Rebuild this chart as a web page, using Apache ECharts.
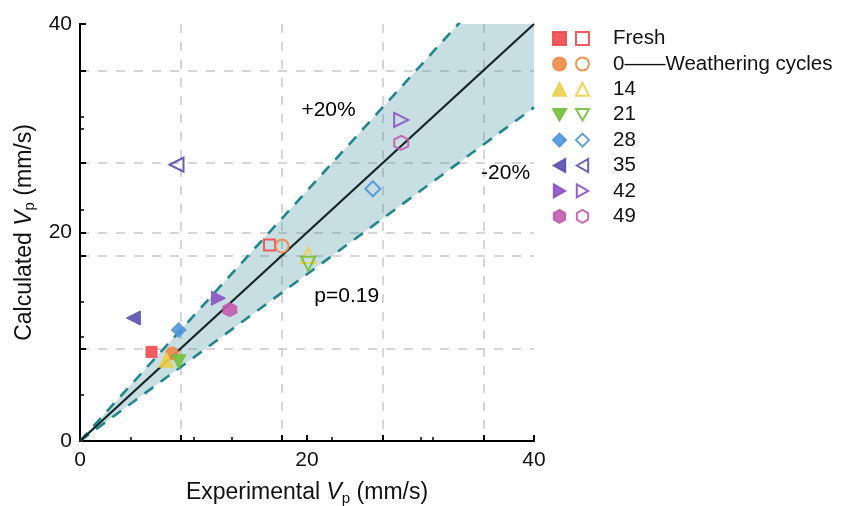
<!DOCTYPE html>
<html>
<head>
<meta charset="utf-8">
<script src="https://cdn.jsdelivr.net/npm/echarts@6/dist/echarts.min.js"></script>
<style>html,body{margin:0;padding:0;background:#fff}#c{width:844px;height:506px}</style>
</head>
<body>
<div id="c"></div>
<script>
// ---- data ----
const groups = ['Fresh', '0——Weathering cycles', '14', '21', '28', '35', '42', '49'];
const colors = ['#ee4a50', '#f08a45', '#ecd04e', '#74c03c', '#4f93db', '#5a4fb0', '#8a52c4', '#c25cae'];
const filledX = [6.3, 8.1, 7.6, 8.7, 8.7, 4.7, 12.2, 13.2];
const filledY = [8.55, 8.4, 7.8, 7.6, 10.65, 11.8, 13.7, 12.6];
const hollowX = [16.7, 17.8, 20.1, 20.1, 25.8, 8.5, 28.3, 28.3];
const hollowY = [18.8, 18.7, 17.8, 17.0, 24.2, 26.5, 30.8, 28.6];
const refX = [0, 40];
const identY = [0, 40];
const upperY = [0, 48];
const lowerY = [0, 32];
const bandPolyX = [0, 40, 40];
const bandPolyY = [0, 48, 32];
const notes = ['+20%', '-20%', 'p=0.19'];
const noteX = [21.9, 37.5, 23.5];
const noteY = [31.7, 25.7, 13.9];
const axisLabels = [0, 20, 40];

// ---- symbols ----
const symbols = [
  'rect', 'circle', 'triangle',
  'path://M0,0 L2,0 L1,1.75 Z',
  'diamond',
  'path://M0,1 L1.75,0 L1.75,2 Z',
  'path://M0,0 L1.75,1 L0,2 Z',
  'path://M0,-1 L0.866,-0.5 L0.866,0.5 L0,1 L-0.866,0.5 L-0.866,-0.5 Z'
];
const sizes = [11, 13, 15, 14, 15, 14, 14, 14];

const series = [];
// band fill polygon
series.push({type:'custom', silent:true, z:1, clip:true,
  data:[0],
  renderItem:(params, api) => ({
    type:'polygon',
    shape:{points: bandPolyX.map((x,i)=>api.coord([x, bandPolyY[i]]))},
    style:{fill:'rgba(70,150,158,0.30)'}
  })});
// dashed bounds
series.push({type:'line', data: refX.map((x,i)=>[x, upperY[i]]), symbol:'none', silent:true, z:2,
  lineStyle:{color:'#22868d', width:2.6, type:[11,9]}});
series.push({type:'line', data: refX.map((x,i)=>[x, lowerY[i]]), symbol:'none', silent:true, z:2,
  lineStyle:{color:'#22868d', width:2.6, type:[11,9]}});
// identity line
series.push({type:'line', data: refX.map((x,i)=>[x, identY[i]]), symbol:'none', silent:true, z:3,
  lineStyle:{color:'#142424', width:2.2}});

groups.forEach((g, i) => {
  series.push({
    name: 'f_' + g, type: 'scatter', symbol: symbols[i], symbolSize: sizes[i], z: 5,
    data: [[filledX[i], filledY[i]]],
    itemStyle: {color: colors[i], borderColor: colors[i], borderWidth: 1, opacity: 0.9}
  });
  series.push({
    name: g, type: 'scatter', symbol: symbols[i], symbolSize: sizes[i], z: 5,
    data: [[hollowX[i], hollowY[i]]],
    itemStyle: {color: 'rgba(255,255,255,0)', borderColor: colors[i], borderWidth: 2, opacity: 0.9}
  });
});

const FONT = 'Liberation Sans, Arial, sans-serif';

// annotations
series.push({type:'scatter', symbolSize:0, silent:true, z:6,
  data: notes.map((t,i)=>({value:[noteX[i], noteY[i]], name:t})),
  itemStyle:{opacity:1},
  label:{show:true, position:'inside', formatter:p=>p.name, color:'#000', fontSize:21, fontFamily:FONT}});

const nameRich = {
  n:{fontSize:23, color:'#111', fontFamily:FONT},
  i:{fontSize:23, color:'#111', fontStyle:'italic', fontFamily:FONT},
  s:{fontSize:15, color:'#111', fontFamily:FONT, padding:[12,0,0,0]}
};
const legText = {fontSize:20.5, color:'#111', fontFamily:FONT};

const option = {
  animation: false,
  grid: {left: 80, right: 310, top: 24, bottom: 65, outerBoundsMode: 'none', containLabel: false},
  legend: [
    {orient:'vertical', left: 547, top: 23, itemWidth: 13, itemHeight: 13, itemGap: 4.4,
     data: groups.map(g=>'f_'+g), formatter: () => ' ', selectedMode:false, textStyle:legText},
    {orient:'vertical', left: 570, top: 23, itemWidth: 13, itemHeight: 13, itemGap: 4.4,
     data: groups, selectedMode:false,
     textStyle:Object.assign({padding:[0,0,0,19]}, legText)}
  ],
  xAxis: [
    {type:'value', min:0, max:40, interval:20, position:'bottom',
     name:'{n|Experimental }{i|V}{s|p}{n| (mm/s)}', nameLocation:'middle', nameGap:38,
     nameTextStyle:{rich:nameRich},
     axisLine:{show:true, onZero:false, lineStyle:{color:'#000', width:2}},
     axisTick:{show:true, inside:true, length:6, lineStyle:{color:'#000', width:2}},
     minorTick:{show:true, splitNumber:2, length:4, lineStyle:{color:'#000', width:1.5}},
     axisLabel:{color:'#111', fontSize:21, fontFamily:FONT, margin:9,
       formatter:v => axisLabels.includes(v) ? String(v) : ''},
     splitLine:{show:false}},
    {type:'value', min:0, max:40, interval:40/4.5, position:'bottom',
     axisLine:{show:false}, axisLabel:{show:false},
     axisTick:{show:true, inside:true, length:6, lineStyle:{color:'#000', width:2}},
     minorTick:{show:true, splitNumber:2, length:4, lineStyle:{color:'#000', width:1.5}},
     splitLine:{show:true, showMinLine:false, showMaxLine:false, lineStyle:{color:'#c8c8c8', width:1.5, type:[9,9]}}}
  ],
  yAxis: [
    {type:'value', min:0, max:40, interval:20, position:'left',
     name:'{n|Calculated }{i|V}{s|p}{n| (mm/s)}', nameLocation:'middle', nameGap:34,
     nameTextStyle:{rich:nameRich},
     axisLine:{show:true, onZero:false, lineStyle:{color:'#000', width:2}},
     axisTick:{show:true, inside:true, length:6, lineStyle:{color:'#000', width:2}},
     minorTick:{show:true, splitNumber:2, length:4, lineStyle:{color:'#000', width:1.5}},
     axisLabel:{color:'#111', fontSize:21, fontFamily:FONT, margin:8,
       formatter:v => axisLabels.includes(v) ? String(v) : ''},
     splitLine:{show:true, showMinLine:false, showMaxLine:false, lineStyle:{color:'#c8c8c8', width:1.5, type:[9,9]}}},
    {type:'value', min:0, max:40, interval:40/4.5, position:'left',
     axisLine:{show:false}, axisLabel:{show:false},
     axisTick:{show:true, inside:true, length:6, lineStyle:{color:'#000', width:2}},
     minorTick:{show:true, splitNumber:2, length:4, lineStyle:{color:'#000', width:1.5}},
     splitLine:{show:true, showMinLine:false, showMaxLine:false, lineStyle:{color:'#c8c8c8', width:1.5, type:[9,9]}}},
    {type:'value', min:0, max:40, position:'right',
     axisLine:{show:true, lineStyle:{color:'#000', width:2}},
     axisTick:{show:false}, axisLabel:{show:false}, splitLine:{show:false}}
  ],
  series: series
};

const chart = echarts.init(document.getElementById('c'), null, {renderer:'canvas'});
chart.setOption(option);
</script>
</body>
</html>
